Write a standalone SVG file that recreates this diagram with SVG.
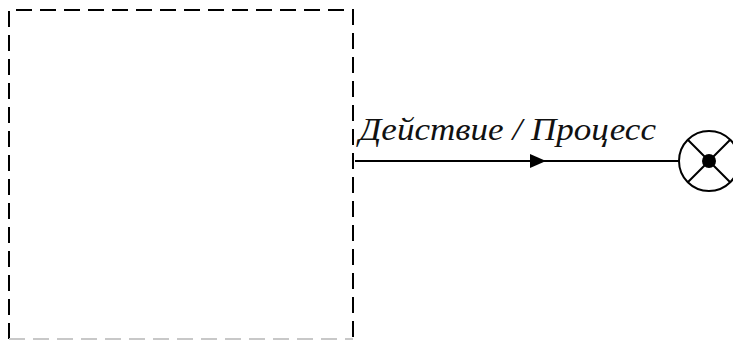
<svg xmlns="http://www.w3.org/2000/svg" width="733" height="342" viewBox="0 0 733 342">
  <style>
    .frame { fill: none; stroke: #000; stroke-width: 2; stroke-dasharray: 16 8; }
    .frame-low { fill: none; stroke: #c8c8c8; stroke-width: 2; stroke-dasharray: 16 8; }
    .flow { fill: none; stroke: #000; stroke-width: 2; }
    .label { font-family: "Liberation Serif", "Times New Roman", serif; font-style: italic; font-size: 32px; fill: #111; }
    .junction { fill: #fff; stroke: #000; stroke-width: 2; }
  </style>
  <defs>
    <marker id="mid-arrow" markerWidth="16" markerHeight="16" refX="8" refY="8" orient="auto" markerUnits="userSpaceOnUse">
      <path d="M0,1 L16,8 L0,15 Z" fill="#000"/>
    </marker>
  </defs>

  <!-- dashed boundary box -->
  <g id="boundary">
    <path class="frame" d="M9,339 L9,10 L353,10 L353,339"/>
    <path class="frame-low" d="M9,339 L353,339"/>
  </g>

  <!-- connector with direction mark -->
  <g id="connectors">
    <path class="flow" d="M355,161 L538,161 L679,161" marker-mid="url(#mid-arrow)"/>
    <text class="label" x="359" y="140" textLength="297" lengthAdjust="spacingAndGlyphs">Действие / Процесс</text>
  </g>

  <!-- end junction -->
  <g id="junction">
    <circle class="junction" cx="709" cy="161" r="30"/>
    <path class="flow" d="M687.8,139.8 L730.2,182.2 M687.8,182.2 L730.2,139.8"/>
    <circle cx="709" cy="161" r="7" fill="#000"/>
  </g>
</svg>
